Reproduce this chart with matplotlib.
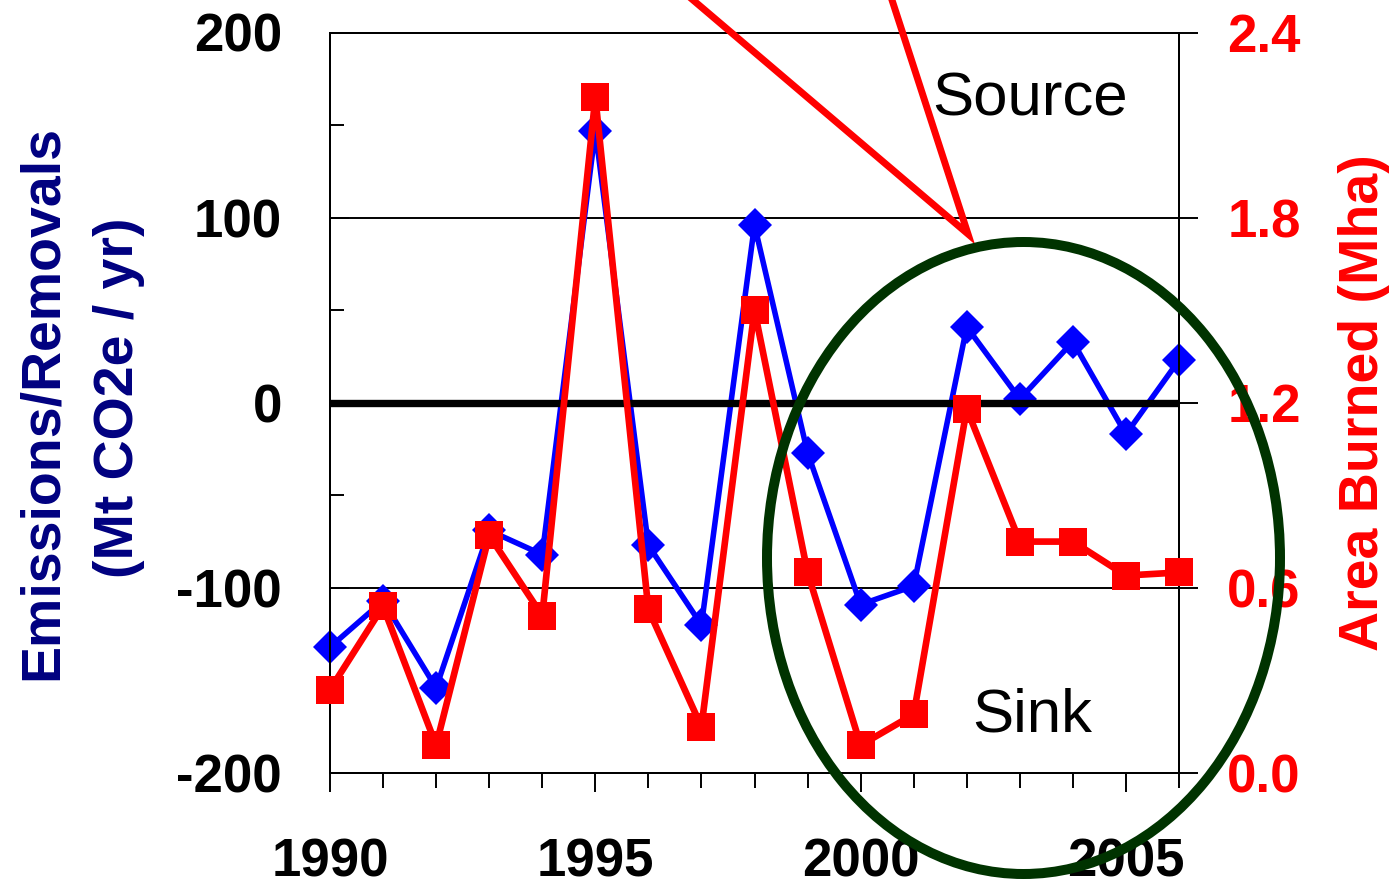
import matplotlib
matplotlib.use('Agg')
import matplotlib.pyplot as plt
from matplotlib.ticker import FixedLocator, MultipleLocator, FuncFormatter
from matplotlib.patches import Ellipse
from matplotlib.lines import Line2D

# ---- data ----
years = list(range(1990, 2007))
emissions = [-132, -107, -154, -69, -82, 147, -77, -120, 96, -27, -109, -99, 41, 2, 33, -17, 23]
area_burned = [0.27, 0.54, 0.09, 0.77, 0.51, 2.19, 0.53, 0.15, 1.50, 0.65, 0.09, 0.19, 1.18, 0.75, 0.75, 0.64, 0.65]
left_ticks = [-200, -100, 0, 100, 200]
left_minor_ticks = [-150, -50, 50, 150]
right_ticks = [0.0, 0.6, 1.2, 1.8, 2.4]
x_label_years = [1990, 1995, 2000, 2005]
left_label_lines = ["Emissions/Removals", "(Mt CO2e / yr)"]
right_label = "Area Burned (Mha)"

plt.rcParams['font.family'] = ['Liberation Sans', 'DejaVu Sans']
plt.rcParams['axes.unicode_minus'] = False

W, H = 1394, 885
fig = plt.figure(figsize=(W / 100, H / 100), dpi=100)

def fx(px):
    return px / W

def fy(py):
    return 1 - py / H

ax1 = fig.add_axes([fx(330), fy(773), fx(1179) - fx(330), fy(32.5) - fy(773)])
ax2 = ax1.twinx()

# ---- series ----
ax1.plot(years, emissions, color='#0000FF', lw=4.0, marker='D', ms=17.5,
         mec='#0000FF', mew=0, clip_on=False, zorder=2)
ax1.axhline(0, color='black', lw=5.3, zorder=3)
ax2.plot(years, area_burned, color='#FF0000', lw=4.8, marker='s', ms=20,
         mec='#FF0000', mew=0, clip_on=False, zorder=3)

# ---- axes ----
ax1.set_xlim(1990, 2006)
ax1.set_ylim(-200, 200)
ax2.set_ylim(0, 2.4)

ax1.xaxis.set_major_locator(FixedLocator(x_label_years))
ax1.xaxis.set_minor_locator(MultipleLocator(1))
ax1.yaxis.set_major_locator(FixedLocator(left_ticks))
ax1.yaxis.set_minor_locator(FixedLocator(left_minor_ticks))
ax1.yaxis.set_major_formatter(FuncFormatter(lambda v, p: f"{int(v)}"))
ax2.yaxis.set_major_locator(FixedLocator(right_ticks))
ax2.yaxis.set_major_formatter(FuncFormatter(lambda v, p: f"{v:.1f}"))

ax1.grid(axis='y', which='major', color='black', lw=1.4, zorder=1)
ax1.set_axisbelow(True)

ax1.tick_params(axis='y', which='major', direction='in', length=13.7, width=1.4,
                pad=34.6, labelsize=38, colors='black')
ax1.tick_params(axis='y', which='minor', direction='in', length=10, width=1.4)
ax1.tick_params(axis='x', which='major', direction='out', length=14, width=1.4,
                pad=32.4, labelsize=38)
ax1.tick_params(axis='x', which='minor', direction='out', length=11, width=1.4)
ax2.tick_params(axis='y', which='major', direction='out', length=13.7, width=1.4,
                pad=21, labelsize=38, labelcolor='#FF0000', color='black')

for lab in ax1.get_xticklabels() + ax1.get_yticklabels() + ax2.get_yticklabels():
    lab.set_fontweight('bold')

for ax in (ax1, ax2):
    for sp in ax.spines.values():
        sp.set_linewidth(1.4)
        sp.set_color('black')

# ---- axis labels ----
fig.text(fx(57), fy(402.5), left_label_lines[0], rotation=90, rotation_mode='anchor',
         ha='center', va='baseline', fontsize=40, fontweight='bold', color='#000080')
fig.text(fx(133), fy(398), left_label_lines[1], rotation=90, rotation_mode='anchor',
         ha='center', va='baseline', fontsize=40, fontweight='bold', color='#000080')
fig.text(fx(1378), fy(402.5), right_label, rotation=90, rotation_mode='anchor',
         ha='center', va='baseline', fontsize=40, fontweight='bold', color='#FF0000')

# ---- annotations ----
fig.text(fx(932), fy(115), "Source", ha='left', va='baseline', fontsize=44.5, color='black')
fig.text(fx(972), fy(732), "Sink", ha='left', va='baseline', fontsize=44.5, color='black')

pointer = Line2D([fx(669.5), fx(968), fx(885.5)], [fy(-20), fy(234), fy(-20)],
                 transform=fig.transFigure, color='#FF0000', lw=5.0,
                 solid_joinstyle='miter', zorder=9)
fig.add_artist(pointer)

ellipse = Ellipse((fx(1023.5), fy(558)), width=513 / W, height=632 / H,
                  transform=fig.transFigure, fill=False, ec='#003300', lw=7.2, zorder=10)
fig.add_artist(ellipse)

fig.savefig('out.png', dpi=100)
